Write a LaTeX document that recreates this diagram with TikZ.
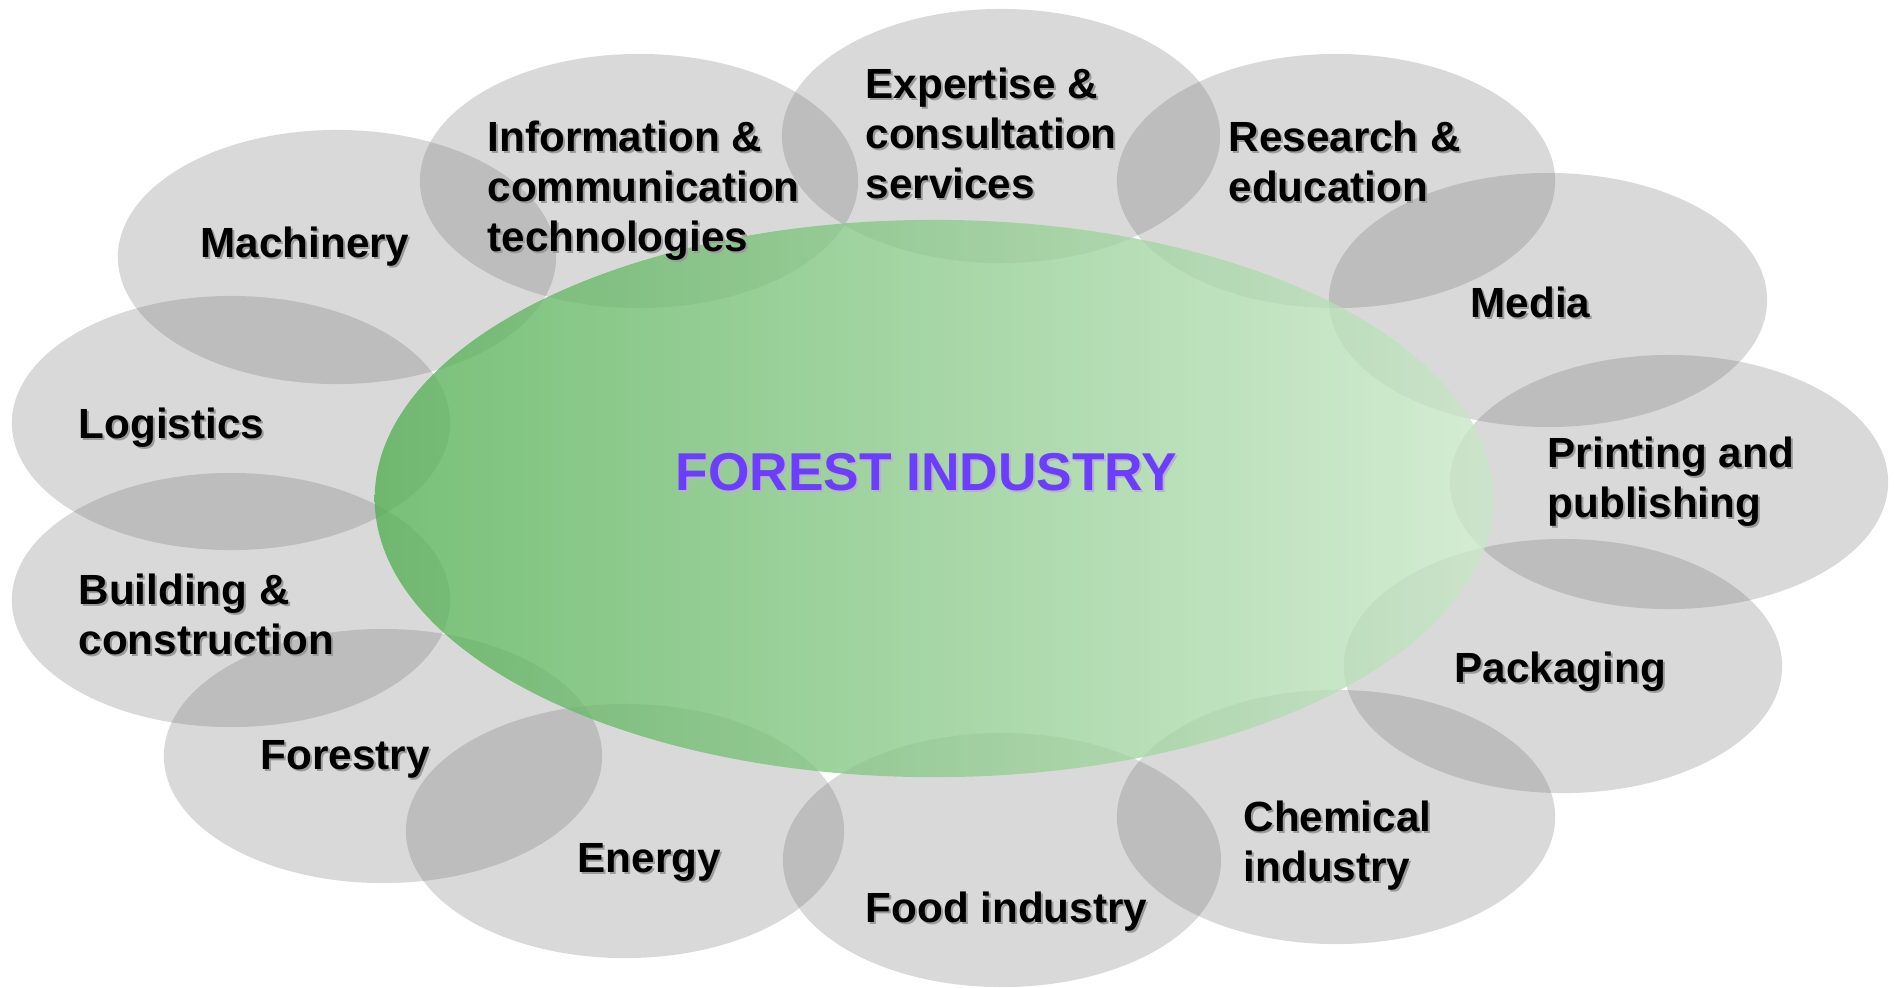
\documentclass[tikz,border=0pt]{standalone}
\usepackage{fontspec}
\setmainfont{Liberation Sans}
\usetikzlibrary{shapes.geometric}
\definecolor{blobgray}{RGB}{105,105,105}
\definecolor{forestL}{RGB}{82,174,82}
\definecolor{forestR}{RGB}{200,231,199}
\definecolor{titlecol}{RGB}{108,62,252}
\definecolor{shadowcol}{RGB}{155,155,155}
\definecolor{titleshadow}{RGB}{185,175,205}
\tikzset{
  blob/.style={ellipse, inner sep=0pt, minimum width=4.38cm, minimum height=2.54cm,
    fill=blobgray, fill opacity=0.25},
  core/.style={ellipse, inner sep=0pt, minimum width=11.18cm, minimum height=5.57cm,
    left color=forestL, right color=forestR, fill opacity=0.78},
  lbl/.style={anchor=north west, inner sep=0pt, align=left,
    font=\bfseries\fontsize{12}{14.3}\selectfont, text=black},
  lblsh/.style={lbl, text=shadowcol, xshift=0.02cm, yshift=-0.02cm},
  ttl/.style={anchor=north west, inner sep=0pt, font=\bfseries\fontsize{15.15}{18}\selectfont, text=titlecol},
  ttlsh/.style={ttl, text=titleshadow, xshift=0.02cm, yshift=-0.02cm},
}
\newcommand{\labeltext}[3]{%
  \node[lblsh] (#1-sh) at (#2) {#3};
  \node[lbl] (#1) at (#2) {#3};
}
\begin{document}
\begin{tikzpicture}[x=0.01cm, y=-0.01cm]
\useasboundingbox (0,0) rectangle (1898,987);
% surrounding ellipses
\node[blob] (b-machinery) at (337,257) {};
\node[blob] (b-info) at (639,181) {};
\node[blob] (b-expertise) at (1001,136) {};
\node[blob] (b-research) at (1336,181) {};
\node[blob] (b-media) at (1548,300) {};
\node[blob] (b-printing) at (1669,482) {};
\node[blob] (b-packaging) at (1563,666) {};
\node[blob] (b-chemical) at (1336,817) {};
\node[blob] (b-food) at (1002,860) {};
\node[blob] (b-energy) at (625,831) {};
\node[blob] (b-forestry) at (383,756) {};
\node[blob] (b-building) at (231,600) {};
\node[blob] (b-logistics) at (231,423) {};
% central ellipse
\node[core] (forest) at (934,498.5) {};
% labels
\labeltext{machinery}{200,226}{Machinery}
\labeltext{info}{487,120}{Information \&\\communication\\technologies}
\labeltext{expertise}{865,67}{Expertise \&\\consultation\\services}
\labeltext{research}{1228,120}{Research \&\\education}
\labeltext{media}{1470,286}{Media}
\labeltext{printing}{1547,436}{Printing and\\publishing}
\labeltext{packaging}{1454,651}{Packaging}
\labeltext{chemical}{1243,800}{Chemical\\industry}
\labeltext{food}{865,891}{Food industry}
\labeltext{energy}{577,843}{Energy}
\labeltext{forestry}{260,740}{Forestry}
\labeltext{building}{78,573}{Building \&\\construction}
\labeltext{logistics}{78,407}{Logistics}
% title
\node[ttlsh] (title-sh) at (675,453) {FOREST INDUSTRY};
\node[ttl] (title) at (675,453) {FOREST INDUSTRY};
\end{tikzpicture}
\end{document}
